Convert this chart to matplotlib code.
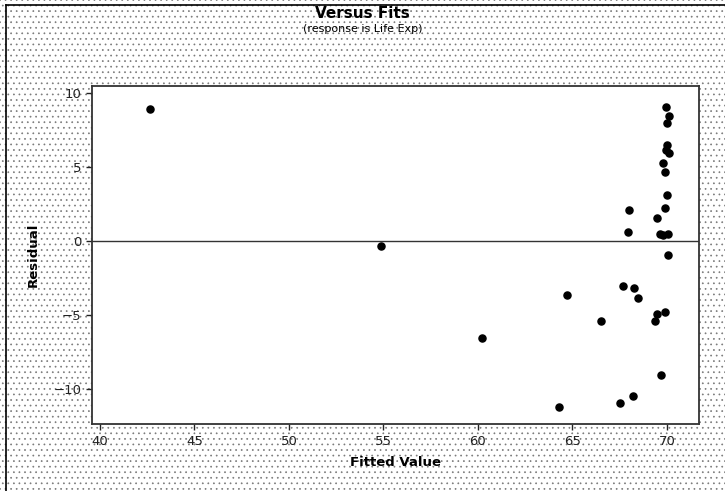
import matplotlib
matplotlib.use("Agg")
import matplotlib.pyplot as plt
from matplotlib.patches import Rectangle

# Fitted values and residuals for the life-expectancy regression
fitted = [
    42.65, 54.85, 60.2, 64.3, 64.69, 66.5,
    67.51, 67.65, 67.94, 67.99, 68.18, 68.25, 68.47,
    69.37, 69.47, 69.49, 69.63, 69.66, 69.79, 69.8, 69.9, 69.9,
    69.95, 70.0, 70.0, 69.95, 70.1, 70.1, 70.0, 69.9, 70.05, 70.05,
]
residuals = [
    8.9, -0.36, -6.6, -11.2, -3.67, -5.41,
    -10.97, -3.09, 0.61, 2.09, -10.52, -3.18, -3.87,
    -5.41, 1.55, -4.93, 0.43, -9.08, 5.25, 0.36, 4.64, -4.78,
    9.03, 7.95, 6.49, 6.15, 8.45, 5.92, 3.09, 2.18, 0.47, -0.99,
]

x_ticks = [40, 45, 50, 55, 60, 65, 70]
y_ticks = [-10, -5, 0, 5, 10]

plt.rcParams["hatch.linewidth"] = 0.5
fig = plt.figure(figsize=(7.25, 4.91), dpi=100)

# dotted graph-region background with a frame on the top and left
bg = Rectangle((0, 0), 1, 1, transform=fig.transFigure, facecolor="white",
               edgecolor="#7a7a7a", hatch="...", linewidth=0, zorder=-10)
fig.patches.append(bg)
fig.add_artist(plt.Line2D([0.008, 0.008], [0, 0.99], color="black", linewidth=1.2))
fig.add_artist(plt.Line2D([0.008, 1], [0.99, 0.99], color="black", linewidth=1.2))

ax = fig.add_axes([0.1263, 0.1358, 0.8377, 0.689])
ax.set_facecolor("white")
ax.scatter(fitted, residuals, s=26, color="black", zorder=3)
ax.axhline(0, color="#333333", linewidth=1.0, zorder=2)

ax.set_xlim(39.56, 71.69)
ax.set_ylim(-12.4, 10.45)
ax.set_xticks(x_ticks)
ax.set_yticks(y_ticks)
ax.tick_params(direction="out", length=4, width=1, labelsize=9.5, colors="#222222")
for spine in ax.spines.values():
    spine.set_linewidth(1.3)
    spine.set_color("#333333")

ax.set_xlabel("Fitted Value", fontsize=9.5, fontweight="bold", labelpad=6)
ax.set_ylabel("Residual", fontsize=9.5, fontweight="bold", labelpad=10)

fig.text(0.5, 0.972, "Versus Fits", ha="center", va="center",
         fontsize=11, fontweight="bold")
fig.text(0.5, 0.94, "(response is Life Exp)", ha="center", va="center",
         fontsize=8)

fig.savefig("out.png", dpi=100)
